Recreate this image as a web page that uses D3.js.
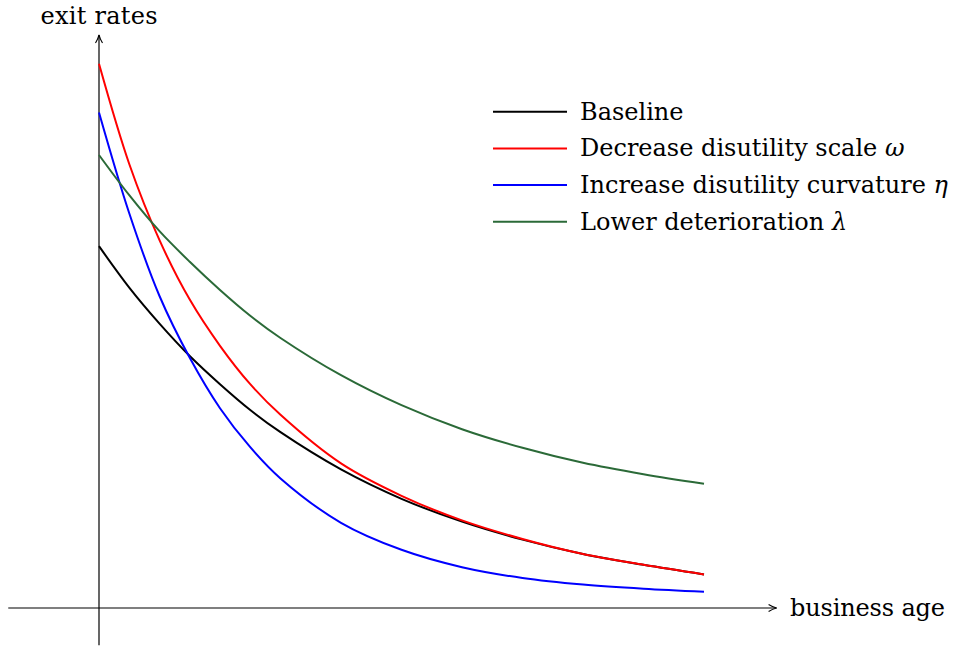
<!DOCTYPE html>
<html>
<head>
<meta charset="utf-8">
<script src="https://cdn.jsdelivr.net/npm/d3@7"></script>
<style>
  body { margin: 0; background: #fff; }
</style>
</head>
<body>
<div id="chart"></div>
<script>
// business age (x) and exit rates
var ages = [0, 0.5, 1, 1.5, 2, 2.5, 3, 4, 5, 6, 7, 8, 9, 10];
var baseline   = [0.603, 0.534, 0.474, 0.420, 0.373, 0.330, 0.293, 0.231, 0.182, 0.144, 0.114, 0.090, 0.072, 0.056];
var lowerOmega = [0.907, 0.740, 0.613, 0.514, 0.437, 0.373, 0.322, 0.241, 0.187, 0.146, 0.115, 0.090, 0.072, 0.056];
var higherEta  = [0.826, 0.658, 0.520, 0.417, 0.333, 0.268, 0.216, 0.142, 0.097, 0.068, 0.050, 0.039, 0.032, 0.027];
var lowerLam   = [0.755, 0.688, 0.628, 0.577, 0.530, 0.487, 0.450, 0.388, 0.338, 0.298, 0.267, 0.242, 0.223, 0.207];

var seriesNames  = ["Baseline", "Decrease disutility scale ", "Increase disutility curvature ", "Lower deterioration "];
var seriesGreek  = ["", "ω", "η", "λ"];
var seriesColors = ["#000000", "#ff0000", "#0000ff", "#2b6a38"];
var seriesValues = [baseline, lowerOmega, higherEta, lowerLam];

var width = 964, height = 646;
var serif = "'DejaVu Serif', serif";

var svg = d3.select("#chart")
    .append("svg")
    .attr("width", width)
    .attr("height", height);

var x = d3.scaleLinear().domain([0, 10]).range([99, 704]);
var y = d3.scaleLinear().domain([0, 1]).range([608, 8]);

// arrow head like tikz "->"
svg.append("defs").append("marker")
    .attr("id", "arr")
    .attr("viewBox", "0 0 10 10")
    .attr("refX", 9)
    .attr("refY", 5)
    .attr("markerWidth", 10)
    .attr("markerHeight", 10)
    .attr("markerUnits", "userSpaceOnUse")
    .attr("orient", "auto")
    .append("path")
    .attr("d", "M1,1.5 Q5,4 9,5 Q5,6 1,8.5")
    .attr("fill", "none")
    .attr("stroke", "#000")
    .attr("stroke-width", 1.1);

// axes
svg.append("line")
    .attr("x1", x(-1.5)).attr("x2", x(11.2))
    .attr("y1", y(0)).attr("y2", y(0))
    .attr("stroke", "#000")
    .attr("stroke-width", 1.2)
    .attr("marker-end", "url(#arr)");

svg.append("line")
    .attr("x1", x(0)).attr("x2", x(0))
    .attr("y1", y(-0.062)).attr("y2", y(0.955))
    .attr("stroke", "#000")
    .attr("stroke-width", 1.2)
    .attr("marker-end", "url(#arr)");

svg.append("text")
    .attr("x", x(0))
    .attr("y", 24)
    .attr("text-anchor", "middle")
    .attr("font-family", serif)
    .attr("font-size", "24px")
    .attr("textLength", 117)
    .text("exit rates");

svg.append("text")
    .attr("x", 790)
    .attr("y", y(0) + 8)
    .attr("font-family", serif)
    .attr("font-size", "24px")
    .attr("textLength", 155)
    .text("business age");

// curves
var line = d3.line()
    .x(function(d) { return x(d[0]); })
    .y(function(d) { return y(d[1]); })
    .curve(d3.curveCatmullRom.alpha(0.5));

seriesValues.forEach(function(vals, i) {
    svg.append("path")
        .datum(ages.map(function(a, j) { return [a, vals[j]]; }))
        .attr("d", line)
        .attr("fill", "none")
        .attr("stroke", seriesColors[i])
        .attr("stroke-width", 2);
});

// legend
var legend = svg.append("g").attr("transform", "translate(493,111.7)");

seriesNames.forEach(function(name, i) {
    var g = legend.append("g").attr("transform", "translate(0," + (i * 36.7) + ")");
    g.append("line")
        .attr("x1", 0).attr("x2", 74)
        .attr("y1", 0).attr("y2", 0)
        .attr("stroke", seriesColors[i])
        .attr("stroke-width", 2);
    var t = g.append("text")
        .attr("x", 87)
        .attr("y", 8)
        .attr("font-family", serif)
        .attr("font-size", "24px");
    t.append("tspan").text(name);
    if (seriesGreek[i] !== "") {
        t.append("tspan").attr("font-style", "italic").text(seriesGreek[i]);
    }
});
</script>
</body>
</html>
